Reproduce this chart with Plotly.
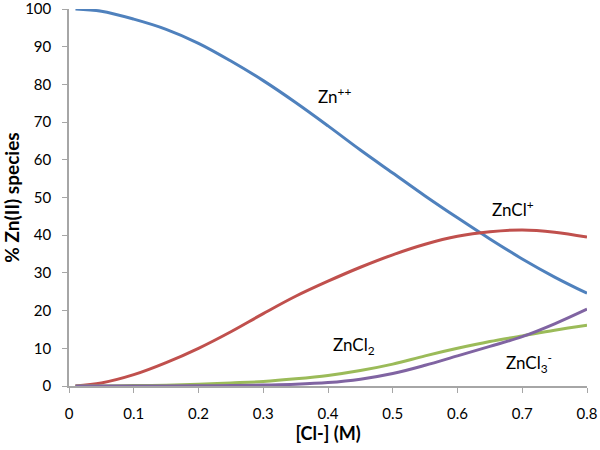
import plotly.graph_objects as go

cl = [0.01, 0.05, 0.10, 0.15, 0.20, 0.25, 0.30, 0.35, 0.40, 0.45, 0.50, 0.55, 0.60, 0.65, 0.70, 0.75, 0.80]
zn = [100.0, 99.4, 97.3, 94.6, 90.9, 86.2, 81.0, 75.2, 69.0, 62.6, 56.5, 50.4, 44.6, 39.0, 33.7, 28.9, 24.6]
zncl = [0.0, 0.8, 3.0, 6.2, 10.0, 14.4, 19.2, 23.8, 27.8, 31.5, 34.8, 37.6, 39.7, 40.9, 41.4, 40.8, 39.5]
zncl2 = [0.0, 0.02, 0.1, 0.2, 0.45, 0.8, 1.2, 1.9, 2.8, 4.1, 5.8, 8.0, 10.0, 11.8, 13.3, 14.8, 16.1]
zncl3 = [0.0, 0.0, 0.0, 0.01, 0.05, 0.1, 0.25, 0.45, 0.9, 1.8, 3.3, 5.5, 8.0, 10.5, 13.1, 16.5, 20.4]

xticks = [0, 0.1, 0.2, 0.3, 0.4, 0.5, 0.6, 0.7, 0.8]
xticklabels = ["0", "0.1", "0.2", "0.3", "0.4", "0.5", "0.6", "0.7", "0.8"]
yticks = [0, 10, 20, 30, 40, 50, 60, 70, 80, 90, 100]

labels = ["Zn<sup>++</sup>", "ZnCl<sup>+</sup>", "ZnCl<sub>2</sub>", "ZnCl<sub>3</sub><sup>-</sup>"]
label_x = [0.41, 0.685, 0.44, 0.71]
label_y = [77, 47, 10.5, 6]

series = [zn, zncl, zncl2, zncl3]
colors = ["#4F81BD", "#C0504D", "#9BBB59", "#8064A2"]

FONT = "Lato, 'Open Sans', sans-serif"

fig = go.Figure()
for ys, c in zip(series, colors):
    fig.add_trace(go.Scatter(x=cl, y=ys, mode="lines", line=dict(color=c, width=3, shape="spline", smoothing=1.0),
                             showlegend=False, hoverinfo="skip"))

for t, lx, ly in zip(labels, label_x, label_y):
    fig.add_annotation(x=lx, y=ly, text=t, showarrow=False, font=dict(family=FONT, size=17, color="black"))

fig.update_layout(
    width=600, height=450,
    margin=dict(l=69, r=13, t=9, b=64, autoexpand=False),
    paper_bgcolor="white", plot_bgcolor="white",
    font=dict(family=FONT, size=15, color="black"),
)
fig.update_xaxes(range=[0, 0.8], tickvals=xticks, ticktext=xticklabels, showgrid=False, zeroline=False,
                 showline=True, linecolor="#a6a6a6", linewidth=1.5, ticks="outside", ticklen=5,
                 tickcolor="#a6a6a6", tickfont=dict(size=15), ticklabelstandoff=8, ticklabeloverflow="allow",
                 title=dict(text="<b>[Cl-] (M)</b>", font=dict(size=18), standoff=3))
fig.update_yaxes(range=[0, 100], tickvals=yticks, showgrid=False, zeroline=False,
                 showline=True, linecolor="#a6a6a6", linewidth=1.5, ticks="outside", ticklen=5,
                 tickcolor="#a6a6a6", tickfont=dict(size=15), ticklabelstandoff=8, ticklabeloverflow="allow",
                 title=dict(text="<b>% Zn(II) species</b>", font=dict(size=19), standoff=8))

fig.write_html("out.html", config={"displayModeBar": False},
               post_script="document.body.style.margin='0';document.body.style.padding='0';document.body.style.overflow='hidden';")
